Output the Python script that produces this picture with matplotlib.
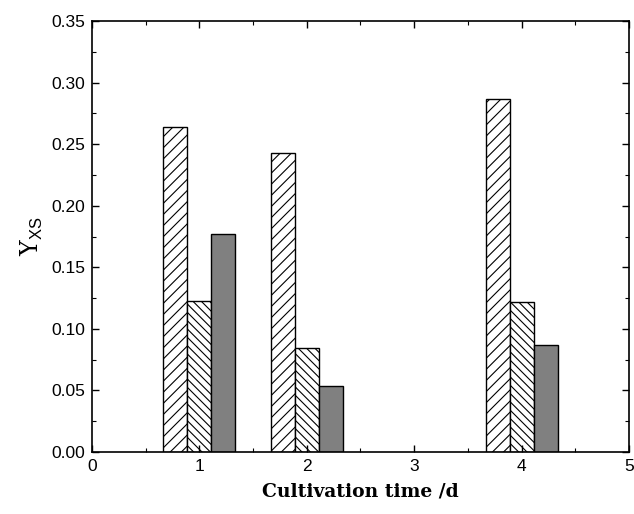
import matplotlib
matplotlib.use("Agg")
import matplotlib.pyplot as plt
from matplotlib.ticker import MultipleLocator
import numpy as np

days = [1, 2, 4]
series_a = [0.264, 0.2426, 0.287]
series_b = [0.1226, 0.0847, 0.122]
series_c = [0.1773, 0.0536, 0.087]
x_ticks = [0, 1, 2, 3, 4, 5]
y_ticks = [0.00, 0.05, 0.10, 0.15, 0.20, 0.25, 0.30, 0.35]

plt.rcParams['hatch.linewidth'] = 0.8
plt.rcParams['mathtext.fontset'] = 'custom'
plt.rcParams['mathtext.rm'] = 'DejaVu Serif'
plt.rcParams['mathtext.sf'] = 'Liberation Sans'

fig = plt.figure(figsize=(6.34, 5.14), dpi=100)
ax = fig.add_axes([0.1451, 0.1206, 0.8470, 0.8385])

w = 0.223
x = np.array(days, dtype=float)
ax.bar(x - w, series_a, width=w, facecolor='white', edgecolor='black', hatch='///', linewidth=1.0)
ax.bar(x, series_b, width=w, facecolor='white', edgecolor='black', hatch='\\\\\\\\', linewidth=1.0)
ax.bar(x + w, series_c, width=w, facecolor='#808080', edgecolor='black', linewidth=1.0)

ax.set_xlim(0, 5)
ax.set_ylim(0, 0.35)
ax.set_xticks(x_ticks)
ax.set_yticks(y_ticks)
ax.set_yticklabels([f"{v:.2f}" for v in y_ticks])
ax.xaxis.set_minor_locator(MultipleLocator(0.5))
ax.yaxis.set_minor_locator(MultipleLocator(0.025))
ax.tick_params(which='major', direction='in', length=5, width=1.0, top=True, right=True,
               labelsize=12.5, pad=5)
ax.tick_params(which='minor', direction='in', length=3, width=0.8, top=True, right=True)
for lab in ax.get_xticklabels() + ax.get_yticklabels():
    lab.set_family('Liberation Sans')
for s in ax.spines.values():
    s.set_linewidth(1.2)

ax.set_xlabel('Cultivation time /d', family='DejaVu Serif', fontweight='bold', fontsize=13.5, labelpad=6)
fig.text(0.05, 0.54, r'$\mathrm{Y}_{\mathsf{XS}}$', rotation=90, fontsize=17,
         ha='center', va='center')

fig.savefig('out.png', dpi=100)
